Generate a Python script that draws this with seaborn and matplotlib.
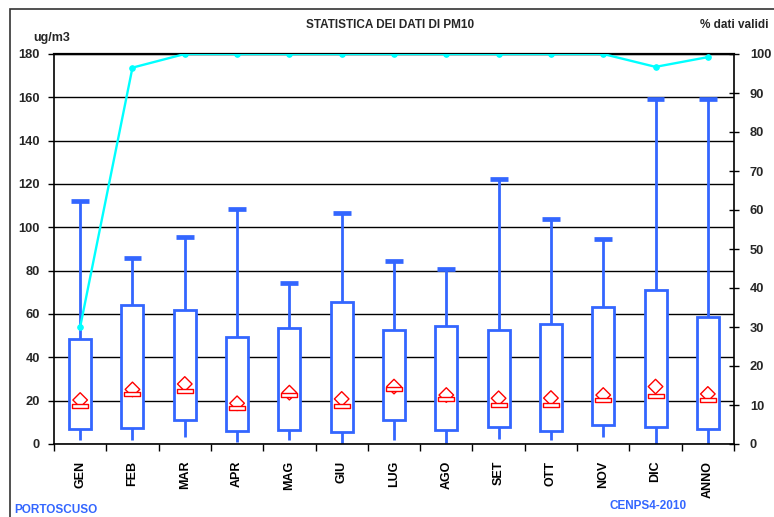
import numpy as np
import pandas as pd
import matplotlib
matplotlib.use("Agg")
import matplotlib.pyplot as plt
from matplotlib.path import Path
from matplotlib.patches import Rectangle
import seaborn as sns

# ---- data ----
cats = ['GEN', 'FEB', 'MAR', 'APR', 'MAG', 'GIU', 'LUG', 'AGO', 'SET', 'OTT', 'NOV', 'DIC', 'ANNO']
whislo = [2.0, 1.8, 3.4, 1.0, 1.8, 0.0, 1.8, 0.6, 2.5, 1.8, 3.4, 0.0, 0.0]
q1 = [7.1, 7.4, 10.9, 6.1, 6.6, 5.7, 10.9, 6.5, 8.0, 6.1, 8.6, 8.0, 7.1]
med = [17.7, 22.9, 24.6, 16.5, 22.6, 17.7, 25.2, 20.8, 18.1, 18.1, 20.2, 22.0, 20.3]
q3 = [48.5, 64.0, 62.0, 49.2, 53.7, 65.7, 52.6, 54.6, 52.5, 55.2, 63.1, 70.9, 58.5]
whishi = [112.0, 85.7, 95.7, 108.3, 74.2, 106.8, 84.6, 80.8, 122.3, 104.0, 94.5, 159.2, 159.2]
mean = [20.3, 25.2, 27.7, 18.8, 23.7, 20.8, 26.5, 22.6, 21.1, 21.2, 22.6, 26.5, 23.1]
pct_valid = [30.0, 96.5, 100, 100, 100, 100, 100, 100, 100, 100, 100, 96.7, 99.2]
left_ticks = [0, 20, 40, 60, 80, 100, 120, 140, 160, 180]
right_ticks = [0, 10, 20, 30, 40, 50, 60, 70, 80, 90, 100]

BLUE = '#3366FF'
CYAN = '#00FFFF'
RED = '#FF0000'

sns.set_theme(style='white')
plt.rcParams['font.family'] = ['Liberation Sans', 'DejaVu Sans']
plt.rcParams['font.weight'] = 'bold'

# long-form table: five points per category give exact quartiles / extremes
rows = []
for c, a, b, m, d, e in zip(cats, whislo, q1, med, q3, whishi):
    for v in (a, b, m, d, e):
        rows.append({'mese': c, 'val': v})
df = pd.DataFrame(rows)
pos = np.arange(len(cats))

fig = plt.figure(figsize=(7.74, 5.17), dpi=100)
ax = fig.add_axes([54/774, 1-444/517, 680/774, 390/517])

ax.set_axisbelow(True)
ax.yaxis.grid(True, color='black', lw=1.0)

n_before = len(ax.lines)
sns.boxplot(data=df, x='mese', y='val', order=cats, ax=ax, whis=(0, 100),
            color='white', linecolor=BLUE, linewidth=2.0, width=0.42,
            medianprops=dict(linewidth=0, alpha=0),
            capprops=dict(linewidth=3.4, solid_capstyle='butt'),
            capwidths=0.34, showfliers=False)
for p in ax.patches:
    p.set_facecolor('white')
    p.set_edgecolor(BLUE)
# hide lower caps (reference shows only upper caps)
lows = set(np.round(whislo, 6))
for ln in ax.lines[n_before:]:
    y = np.asarray(ln.get_ydata(), dtype=float)
    x = np.asarray(ln.get_xdata(), dtype=float)
    if len(y) == 2 and y[0] == y[1] and x[0] != x[1]:
        # a horizontal segment: cap or median
        xi = int(round(x.mean()))
        if abs(y[0] - whislo[xi]) < 1e-9:
            ln.set_visible(False)

# mean (diamond) and median (rectangle)
sns.scatterplot(x=pos, y=mean, ax=ax, marker='D', s=55, facecolor='none',
                edgecolor=RED, linewidth=1.0, zorder=5)
rect = Path([(-1, -0.2), (1, -0.2), (1, 0.2), (-1, 0.2), (-1, -0.2)],
            [Path.MOVETO, Path.LINETO, Path.LINETO, Path.LINETO, Path.CLOSEPOLY])
sns.scatterplot(x=pos, y=med, ax=ax, marker=rect, s=130, facecolor='white',
                edgecolor=RED, linewidth=1.0, zorder=6)

ax.set_xlim(-0.5, len(cats) - 0.5)
ax.set_ylim(0, 180)
ax.set_yticks(left_ticks)
ax.set_yticklabels([str(t) for t in left_ticks], fontsize=9.3, fontweight='bold')
ax.set_xticks(pos)
ax.set_xticklabels(cats, rotation=90, fontsize=9, fontweight='bold')
ax.set_xticks(np.arange(-0.5, len(cats), 1.0), minor=True)
ax.tick_params(axis='x', which='major', length=0, pad=12, colors='black')
ax.tick_params(axis='x', which='minor', length=5, width=1, direction='out', color='black', bottom=True)
ax.tick_params(axis='y', which='major', length=4, width=1, direction='out', pad=6, color='black', left=True)
ax.set_xlabel('')
ax.set_ylabel('')
for s in ['left', 'bottom', 'top']:
    ax.spines[s].set_visible(True)
    ax.spines[s].set_color('black')
ax.spines['left'].set_linewidth(1.2)
ax.spines['bottom'].set_linewidth(1.2)
ax.spines['top'].set_linewidth(1.6)
ax.spines['right'].set_visible(False)

# percentage of valid data on right axis
ax2 = ax.twinx()
sns.lineplot(x=pos, y=pct_valid, ax=ax2, color=CYAN, lw=1.7, marker='o',
             markersize=4, markeredgecolor=CYAN)
ax2.set_ylim(0, 100)
ax2.set_yticks(right_ticks)
ax2.set_yticklabels([str(t) for t in right_ticks], fontsize=9.3, fontweight='bold')
ax2.tick_params(axis='y', length=7, width=1, direction='inout', pad=8, color='black', right=True)
for s in ['left', 'bottom', 'top']:
    ax2.spines[s].set_visible(False)
ax2.spines['right'].set_visible(True)
ax2.spines['right'].set_color('black')
ax2.spines['right'].set_linewidth(1.2)
ax2.set_ylabel('')

# texts
fig.text(390/774, 1-25/517, 'STATISTICA DEI DATI DI PM10', ha='center', va='center',
         fontsize=8.5, fontweight='bold')
fig.text(33/774, 1-38/517, 'ug/m3', ha='left', va='center', fontsize=9, fontweight='bold')
fig.text(700/774, 1-25/517, '% dati validi', ha='left', va='center', fontsize=8.5, fontweight='bold')
fig.text(14/774, 1-510/517, 'PORTOSCUSO', ha='left', va='center', fontsize=8.5,
         fontweight='bold', color=BLUE)
fig.text(610/774, 1-506/517, 'CENPS4-2010', ha='left', va='center', fontsize=8.5,
         fontweight='bold', color=BLUE)

# outer frame
fig.add_artist(Rectangle((10/774, -0.1), 1.5, 1.1 - 9/517, transform=fig.transFigure,
                         fill=False, edgecolor='#333333', lw=1.2))

fig.savefig('out.png', dpi=100)
